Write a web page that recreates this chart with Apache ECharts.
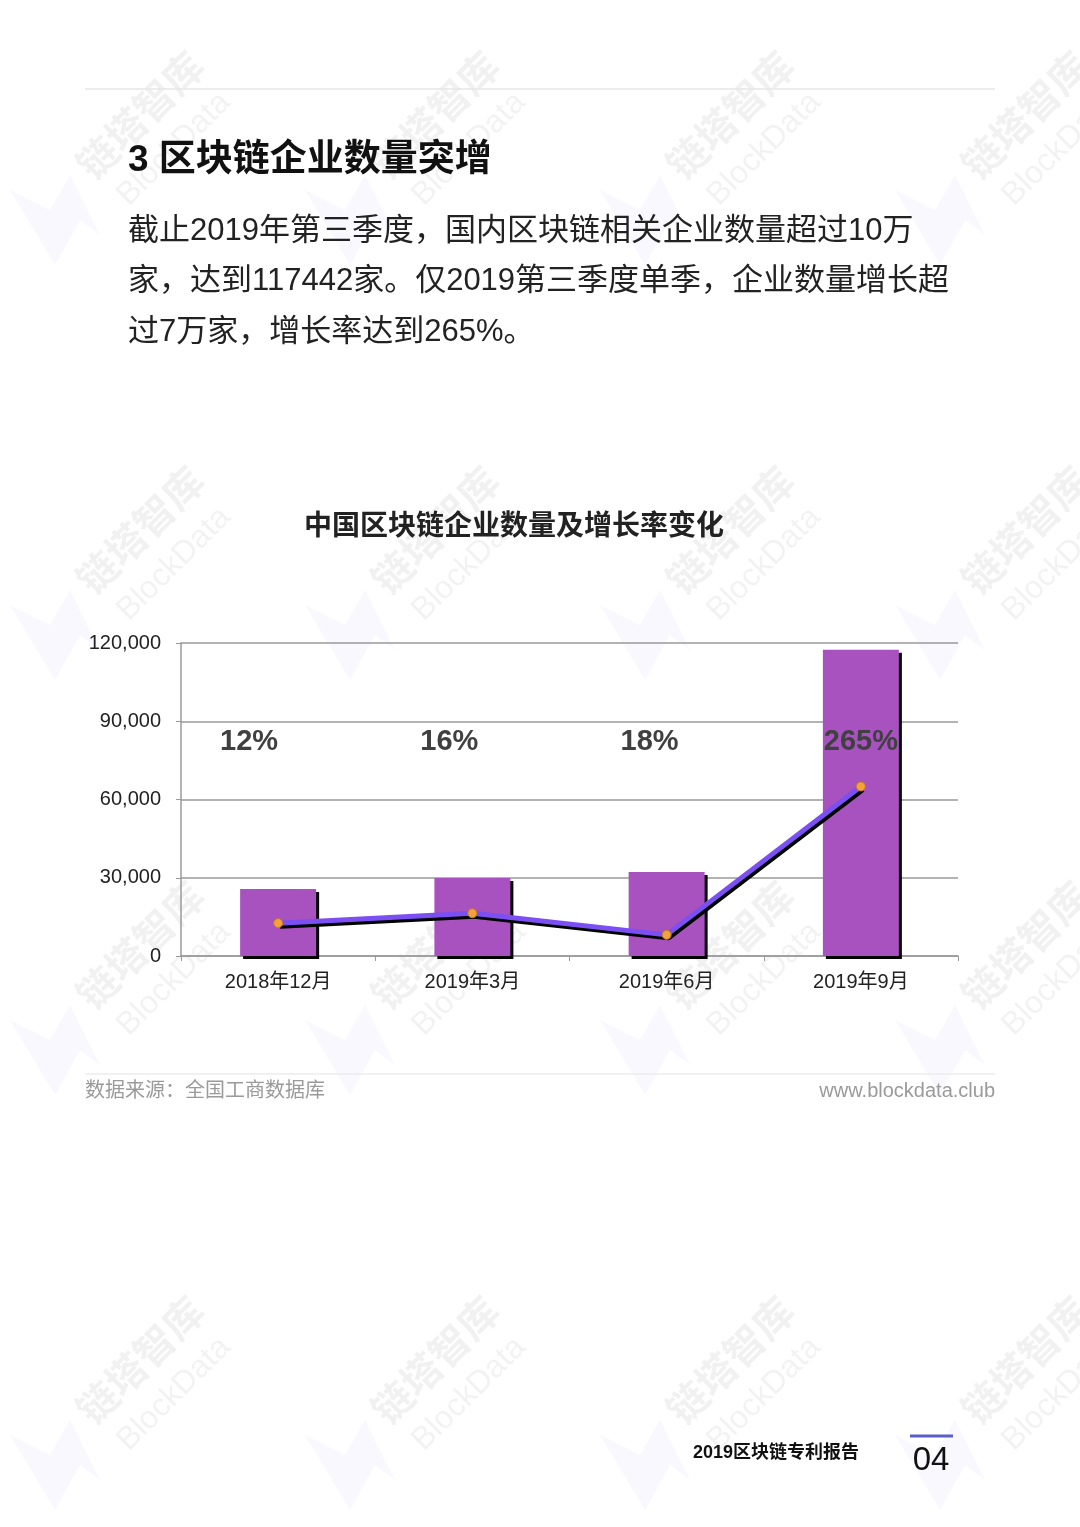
<!DOCTYPE html>
<html>
<head>
<meta charset="utf-8">
<script src="https://cdn.jsdelivr.net/npm/echarts@6/dist/echarts.min.js"></script>
<style>
html,body{margin:0;padding:0;background:#fff;}
#chart{width:1080px;height:1527px;}
</style>
</head>
<body>
<div id="chart"></div>
<script>
// ---- data ----
const categories = ['2018年12月', '2019年3月', '2019年6月', '2019年9月'];
const companyCounts = [25700, 29900, 32200, 117442];
const lineValues = [12600, 16400, 8100, 65000];
const growthRates = ['12%', '16%', '18%', '265%'];
const yTicks = [0, 30000, 60000, 90000, 120000];

const heading = '3 区块链企业数量突增';
const paragraph = [
  '截止2019年第三季度，国内区块链相关企业数量超过10万',
  '家，达到117442家。仅2019第三季度单季，企业数量增长超',
  '过7万家，增长率达到265%。'
];
const chartTitle = '中国区块链企业数量及增长率变化';
const sourceText = '数据来源：全国工商数据库';
const siteText = 'www.blockdata.club';
const footerTitle = '2019区块链专利报告';
const pageNo = '04';

const FONT = '"Liberation Sans", "Noto Sans CJK SC", sans-serif';
const LABEL_Y = 82000;
const rateOffsets = [[-29, 0], [-23, 0], [-17, 0], [0, 0]];

const chart = echarts.init(document.getElementById('chart'), null, {renderer: 'canvas'});

// watermarks
const watermarks = [];
const wmCols = [140, 435, 730, 1025];
const wmRows = [115, 530, 945, 1360];
wmRows.forEach(function (wy) {
  wmCols.forEach(function (wx) {
    watermarks.push({
      type: 'polygon', z: -10, silent: true,
      shape: {points: [[wx - 130, wy + 75], [wx - 85, wy + 150], [wx - 60, wy + 105], [wx - 40, wy + 120], [wx - 70, wy + 60], [wx - 90, wy + 95]]},
      style: {fill: 'rgba(120,120,230,0.05)'}
    });
    watermarks.push({
      type: 'text', z: -9, silent: true, x: wx, y: wy, rotation: Math.PI / 4,
      style: {text: '链塔智库', font: 'bold 40px "Noto Sans CJK SC"', fill: 'rgba(0,0,0,0.055)', align: 'center', verticalAlign: 'middle'}
    });
    watermarks.push({
      type: 'text', z: -9, silent: true, x: wx + 34, y: wy + 34, rotation: Math.PI / 4,
      style: {text: 'BlockData', font: '32px "Liberation Sans"', fill: 'rgba(0,0,0,0.05)', align: 'center', verticalAlign: 'middle'}
    });
  });
});

const pageGraphics = [
  {type: 'line', shape: {x1: 85, y1: 89, x2: 995, y2: 89}, style: {stroke: '#e6e6e6', lineWidth: 1.5}},
  {type: 'text', x: 128, y: 161, style: {text: heading, font: 'bold 37px ' + FONT, fill: '#111', verticalAlign: 'middle'}},
  {type: 'text', x: 128, y: 231, style: {text: paragraph[0], font: '31px ' + FONT, fill: '#222', verticalAlign: 'middle'}},
  {type: 'text', x: 128, y: 281, style: {text: paragraph[1], font: '31px ' + FONT, fill: '#222', verticalAlign: 'middle'}},
  {type: 'text', x: 128, y: 332, style: {text: paragraph[2], font: '31px ' + FONT, fill: '#222', verticalAlign: 'middle'}},
  {type: 'text', x: 514, y: 527, style: {text: chartTitle, font: 'bold 28px ' + FONT, fill: '#222', align: 'center', verticalAlign: 'middle'}},
  {type: 'line', shape: {x1: 85, y1: 1074, x2: 995, y2: 1074}, style: {stroke: '#ececec', lineWidth: 1.5}},
  {type: 'text', x: 85, y: 1091, style: {text: sourceText, font: '20px ' + FONT, fill: '#9a9a9a', verticalAlign: 'middle'}},
  {type: 'text', x: 995, y: 1091, style: {text: siteText, font: '20px ' + FONT, fill: '#9a9a9a', align: 'right', verticalAlign: 'middle'}},
  {type: 'text', x: 693, y: 1453, style: {text: footerTitle, font: 'bold 18px ' + FONT, fill: '#111', verticalAlign: 'middle'}},
  {type: 'line', shape: {x1: 910, y1: 1436, x2: 953, y2: 1436}, style: {stroke: '#5b5fc7', lineWidth: 3}},
  {type: 'text', x: 931, y: 1461, style: {text: pageNo, font: '33px ' + FONT, fill: '#111', align: 'center', verticalAlign: 'middle'}}
];

const option = {
  backgroundColor: '#fff',
  animation: false,
  textStyle: {fontFamily: FONT},
  graphic: watermarks.concat(pageGraphics),
  grid: {left: 181, top: 643, width: 777, height: 313, containLabel: false},
  xAxis: {
    type: 'category',
    data: categories,
    boundaryGap: true,
    axisLine: {show: true, lineStyle: {color: '#9a9a9a', width: 1.5}},
    axisTick: {show: true, length: 5, lineStyle: {color: '#9a9a9a'}},
    axisLabel: {color: '#222', fontSize: 20, margin: 16, fontFamily: FONT},
    splitLine: {show: false}
  },
  yAxis: {
    type: 'value',
    min: 0, max: 120000, interval: 30000,
    axisLine: {show: true, lineStyle: {color: '#9a9a9a', width: 1.5}},
    axisTick: {show: true, length: 5, lineStyle: {color: '#9a9a9a'}},
    axisLabel: {color: '#222', fontSize: 20, margin: 20, fontFamily: FONT,
      formatter: function (v) { return v.toLocaleString('en-US'); }},
    splitLine: {show: true, lineStyle: {color: '#9a9a9a', width: 1.5}}
  },
  series: [
    {
      type: 'bar',
      data: companyCounts,
      barWidth: 76,
      itemStyle: {color: '#a752bf', shadowColor: '#000', shadowOffsetX: 3, shadowOffsetY: 3, shadowBlur: 0},
      z: 2
    },
    {
      type: 'line',
      data: lineValues,
      symbol: 'circle',
      symbolSize: 9,
      itemStyle: {color: '#f2a23a', borderColor: '#c77a1c', borderWidth: 1},
      lineStyle: {color: '#7c4ff2', width: 5, shadowColor: '#000', shadowOffsetX: 2, shadowOffsetY: 3, shadowBlur: 0},
      z: 3
    },
    {
      type: 'scatter',
      symbolSize: 0,
      itemStyle: {color: '#404040', opacity: 1},
      data: categories.map(function (c, i) {
        return {value: [i, LABEL_Y], label: {offset: rateOffsets[i]}};
      }),
      label: {
        show: true, position: 'inside', color: '#404040', fontSize: 29, fontWeight: 'bold', fontFamily: FONT,
        textBorderWidth: 0, textBorderColor: 'transparent',
        formatter: function (p) { return growthRates[p.dataIndex]; }
      },
      z: 4
    }
  ]
};
chart.setOption(option);
</script>
</body>
</html>
